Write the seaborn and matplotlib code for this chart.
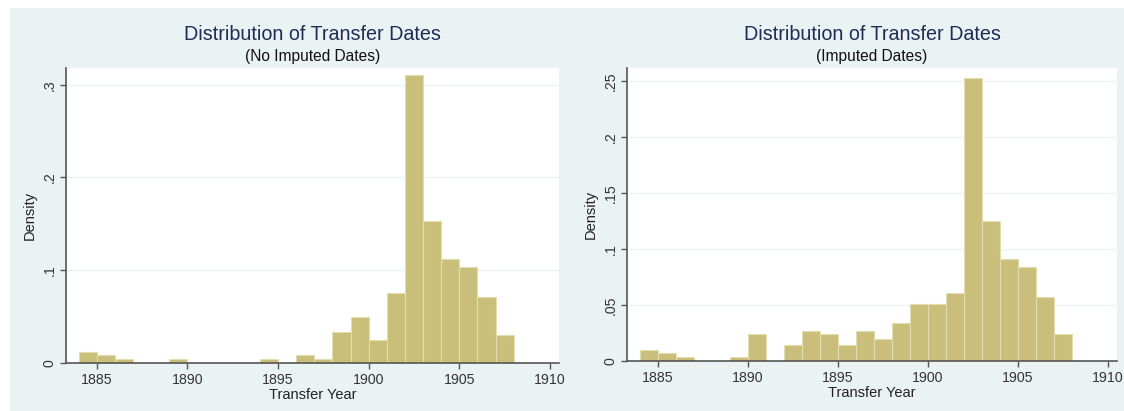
import numpy as np
import pandas as pd
import seaborn as sns
import matplotlib.pyplot as plt
from matplotlib.patches import Rectangle
from matplotlib.ticker import FuncFormatter

# bin start years (bins are one year wide)
years_no_imp = [1884, 1885, 1886, 1889, 1894, 1896, 1897, 1898, 1899, 1900,
                1901, 1902, 1903, 1904, 1905, 1906, 1907]
density_no_imp = [0.012, 0.009, 0.004, 0.004, 0.004, 0.009, 0.004, 0.033, 0.050, 0.025,
                  0.075, 0.310, 0.153, 0.112, 0.103, 0.071, 0.030]

years_imp = [1884, 1885, 1886, 1889, 1890, 1892, 1893, 1894, 1895, 1896, 1897,
             1898, 1899, 1900, 1901, 1902, 1903, 1904, 1905, 1906, 1907]
density_imp = [0.010, 0.007, 0.0035, 0.0035, 0.024, 0.014, 0.027, 0.024, 0.014, 0.027, 0.020,
               0.034, 0.051, 0.051, 0.061, 0.253, 0.125, 0.091, 0.084, 0.057, 0.024]

xticks = [1885, 1890, 1895, 1900, 1905, 1910]
yticks_no_imp = [0, 0.1, 0.2, 0.3]
yticks_imp = [0, 0.05, 0.1, 0.15, 0.2, 0.25]

title = "Distribution of Transfer Dates"
subtitles = ["(No Imputed Dates)", "(Imputed Dates)"]

sns.set_theme(style="white")
plt.rcParams["font.family"] = ["Liberation Sans", "DejaVu Sans"]

bg = "#EAF2F3"
bar_color = "#C9BF7A"
axis_color = "#555555"

fig = plt.figure(figsize=(11.24, 4.11), dpi=100)
fig.patch.set_facecolor("white")
fig.patches.append(Rectangle((10 / 1124, 0), 1, 403 / 411, transform=fig.transFigure,
                             facecolor=bg, edgecolor="none", zorder=-10))

ax1 = fig.add_axes([66 / 1124, 48 / 411, 493 / 1124, 295 / 411])
ax2 = fig.add_axes([627 / 1124, 50 / 411, 490 / 1124, 293 / 411])


def fmt(v, pos):
    if v == 0:
        return "0"
    s = ("%g" % v)
    return s.replace("0.", ".", 1)


panels = [
    (ax1, years_no_imp, density_no_imp, yticks_no_imp, 0.318, subtitles[0]),
    (ax2, years_imp, density_imp, yticks_imp, 0.2616, subtitles[1]),
]

for ax, yrs, dens, yt, ytop, sub in panels:
    df = pd.DataFrame({"year": yrs, "density": dens})
    sns.histplot(data=df, x="year", weights="density", binwidth=1, binrange=(1884, 1908),
                 stat="count", color=bar_color, alpha=1, edgecolor="#E3DDB0",
                 linewidth=0.8, ax=ax)
    ax.set_facecolor("white")
    ax.set_xlim(1883.3, 1910.5)
    ax.set_ylim(0, ytop)
    ax.set_xticks(xticks)
    ax.set_yticks(yt)
    ax.yaxis.set_major_formatter(FuncFormatter(fmt))
    for y in yt[1:]:
        ax.axhline(y, color="#EEF3F4", lw=1, zorder=0)
    ax.tick_params(axis="both", which="major", direction="out", length=4, width=1,
                   color=axis_color, labelsize=10.2, labelcolor="#333333",
                   bottom=True, left=True, pad=3)
    for lab in ax.get_yticklabels():
        lab.set_rotation(90)
        lab.set_va("center")
    for side in ["top", "right"]:
        ax.spines[side].set_visible(False)
    for side in ["left", "bottom"]:
        ax.spines[side].set_color(axis_color)
        ax.spines[side].set_linewidth(1.2)
    ax.set_xlabel("Transfer Year", fontsize=10.5, color="#222222", labelpad=1)
    ax.set_ylabel("Density", fontsize=10.5, color="#222222", labelpad=4)
    cx = ax.get_position().x0 + ax.get_position().width / 2
    fig.text(cx, 1 - 35 / 411, title, ha="center", va="center", fontsize=14.2, color="#1E2D56")
    fig.text(cx, 1 - 57 / 411, sub, ha="center", va="center", fontsize=11.2, color="#111111")

fig.savefig("out.png", dpi=100)
